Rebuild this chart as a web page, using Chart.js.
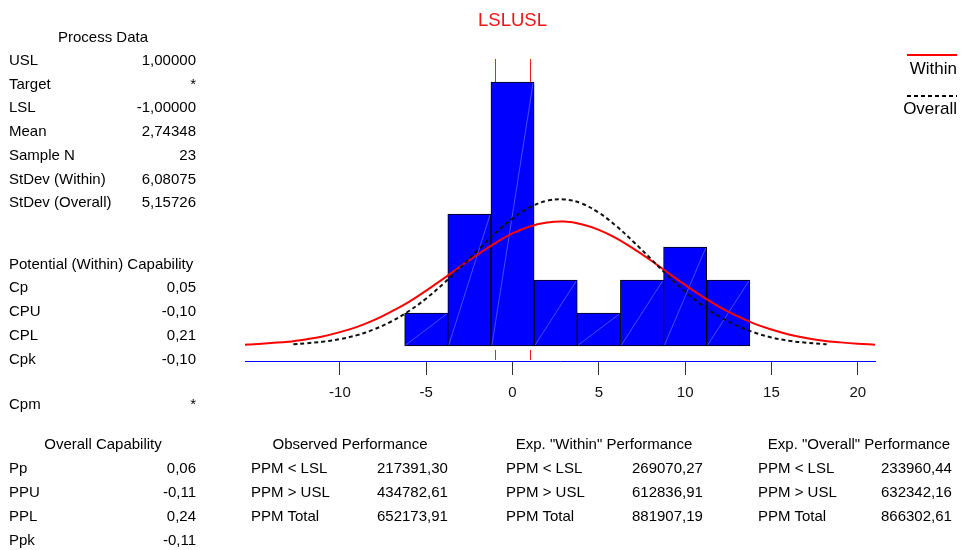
<!DOCTYPE html>
<html>
<head>
<meta charset="utf-8">
<script src="https://cdn.jsdelivr.net/npm/chart.js@4"></script>
<style>
html, body { margin: 0; padding: 0; background: #fff; }
#wrap { position: relative; width: 961px; height: 550px; overflow: hidden; font-family: "Liberation Sans", Arial, sans-serif; color: #000; }
#chart { position: absolute; left: 0; top: 0; }
.t { position: absolute; font-size: 15px; line-height: 18px; white-space: nowrap; }
</style>
</head>
<body>
<div id="wrap"><canvas id="chart" width="961" height="550"></canvas></div>
<script>
//Data

const chartTitle = "LSLUSL";
const specLimits = [-1, 1]; // LSL, USL

const binCenters = [-5, -2.5, 0, 2.5, 5, 7.5, 10, 12.5];
const binCounts = [1, 4, 8, 2, 1, 2, 3, 2];

const withinX = [-15.5, -15, -14, -13, -12, -11, -10, -9, -8, -7, -6, -5, -4, -3, -2, -1, 0, 1, 2, 3, 4, 5, 6, 7, 8, 9, 10, 11, 12, 13, 14, 15, 16, 17, 18, 19, 20, 21];
const withinY = [0.04, 0.05, 0.09, 0.13, 0.2, 0.29, 0.42, 0.58, 0.79, 1.05, 1.34, 1.68, 2.04, 2.42, 2.78, 3.12, 3.41, 3.62, 3.74, 3.77, 3.69, 3.52, 3.27, 2.95, 2.6, 2.22, 1.85, 1.5, 1.18, 0.91, 0.68, 0.5, 0.35, 0.24, 0.16, 0.11, 0.07, 0.04];

const overallX = [-12.7, -12, -11, -10, -9, -8, -7, -6, -5, -4, -3, -2, -1, 0, 1, 2, 3, 4, 5, 6, 7, 8, 9, 10, 11, 12, 13, 14, 15, 16, 17, 18, 18.2];
const overallY = [0.05, 0.08, 0.13, 0.21, 0.33, 0.51, 0.75, 1.06, 1.44, 1.89, 2.39, 2.91, 3.42, 3.86, 4.2, 4.4, 4.44, 4.32, 4.04, 3.64, 3.16, 2.65, 2.13, 1.65, 1.23, 0.89, 0.62, 0.41, 0.26, 0.16, 0.1, 0.06, 0.05];

const tickValues = [-10, -5, 0, 5, 10, 15, 20];
const tickLabels = ["-10", "-5", "0", "5", "10", "15", "20"];

const processLabels = ["USL", "Target", "LSL", "Mean", "Sample N", "StDev (Within)", "StDev (Overall)"];
const processValues = ["1,00000", "*", "-1,00000", "2,74348", "23", "6,08075", "5,15726"];

const potentialLabels = ["Cp", "CPU", "CPL", "Cpk", "Cpm"];
const potentialValues = ["0,05", "-0,10", "0,21", "-0,10", "*"];

const overallCapLabels = ["Pp", "PPU", "PPL", "Ppk"];
const overallCapValues = ["0,06", "-0,11", "0,24", "-0,11"];

const ppmLabels = ["PPM < LSL", "PPM > USL", "PPM Total"];
const observedPPM = ["217391,30", "434782,61", "652173,91"];
const withinPPM = ["269070,27", "612836,91", "881907,19"];
const overallPPM = ["233960,44", "632342,16", "866302,61"];

//Text

const wrap = document.getElementById("wrap");

function text(str, x, cy, align, extra) {
	const d = document.createElement("div");
	d.className = "t";
	d.textContent = str;
	d.style.top = (cy - 9) + "px";
	if (align === "right") {
		d.style.right = (961 - x) + "px";
	} else if (align === "center") {
		d.style.left = x + "px";
		d.style.transform = "translateX(-50%)";
	} else {
		d.style.left = x + "px";
	}
	if (extra) Object.assign(d.style, extra);
	wrap.appendChild(d);
	return d;
}

function box(left, top, width, style) {
	const d = document.createElement("div");
	d.style.position = "absolute";
	d.style.left = left + "px";
	d.style.top = top + "px";
	d.style.width = width + "px";
	Object.assign(d.style, style);
	wrap.appendChild(d);
}

text(chartTitle, 512.5, 20, "center", { fontSize: "18.5px", lineHeight: "18px", color: "#f01414" });

text("Process Data", 103, 37, "center");
processLabels.forEach((l, i) => {
	const y = 60 + i * 23.7;
	text(l, 9, y, "left");
	text(processValues[i], 196, y, "right");
});

text("Potential (Within) Capability", 9, 264, "left");
const potentialY = [287, 311, 335, 359, 404];
potentialLabels.forEach((l, i) => {
	text(l, 9, potentialY[i], "left");
	text(potentialValues[i], 196, potentialY[i], "right");
});

text("Overall Capability", 103, 444, "center");
overallCapLabels.forEach((l, i) => {
	const y = 468 + i * 24;
	text(l, 9, y, "left");
	text(overallCapValues[i], 196, y, "right");
});

const panels = [
	{ title: "Observed Performance", cx: 350, lx: 251, vx: 377, values: observedPPM },
	{ title: 'Exp. "Within" Performance', cx: 604, lx: 506, vx: 632, values: withinPPM },
	{ title: 'Exp. "Overall" Performance', cx: 859, lx: 758, vx: 881, values: overallPPM },
];
panels.forEach(p => {
	text(p.title, p.cx, 444, "center");
	ppmLabels.forEach((l, i) => {
		const y = 468 + i * 24;
		text(l, p.lx, y, "left");
		text(p.values[i], p.vx, y, "left");
	});
});

//Legend
box(907, 54, 50, { height: "2px", background: "#ff0000" });
text("Within", 957, 69, "right", { fontSize: "17px" });
box(907, 95, 50, { height: "2px", background: "repeating-linear-gradient(90deg, #000 0 4px, transparent 4px 7px)" });
text("Overall", 957, 109, "right", { fontSize: "17px" });

//Chart

Chart.defaults.font.family = '"Liberation Sans", Arial, sans-serif';

const specLines = {
	id: "specLines",
	beforeDatasetsDraw(chart) {
		const { ctx, chartArea, scales } = chart;
		ctx.save();
		ctx.strokeStyle = "#e82020";
		ctx.lineWidth = 1;
		ctx.setLineDash([92, 5]);
		ctx.lineDashOffset = 82;
		specLimits.forEach(v => {
			const px = Math.round(scales.x.getPixelForValue(v)) + 0.5;
			ctx.beginPath();
			ctx.moveTo(px, chartArea.bottom - 1);
			ctx.lineTo(px, chartArea.top + 5);
			ctx.stroke();
		});
		ctx.restore();
	},
};

const barHatch = {
	id: "barHatch",
	afterDatasetDraw(chart, args) {
		if (args.index !== 0) return;
		const ctx = chart.ctx;
		ctx.save();
		ctx.strokeStyle = "rgba(170,185,255,0.6)";
		ctx.lineWidth = 0.7;
		args.meta.data.forEach(bar => {
			const { x, y, base, width } = bar.getProps(["x", "y", "base", "width"], true);
			ctx.beginPath();
			ctx.moveTo(x - width / 2 + 1, base - 1);
			ctx.lineTo(x + width / 2 - 1, y + 1);
			ctx.stroke();
		});
		ctx.restore();
	},
};

const ctx = document.getElementById("chart").getContext("2d");

const data = {
	datasets: [
		{
			type: "bar",
			data: binCenters.map((c, i) => ({ x: c, y: binCounts[i] })),
			backgroundColor: "#0000ff",
			borderColor: "#000",
			borderWidth: 1,
			borderSkipped: false,
			barPercentage: 1,
			categoryPercentage: 1,
			order: 3,
		},
		{
			type: "line",
			label: "Within",
			data: withinX.map((x, i) => ({ x: x, y: withinY[i] })),
			borderColor: "#ff0000",
			borderWidth: 2,
			pointRadius: 0,
			tension: 0.4,
			order: 2,
		},
		{
			type: "line",
			label: "Overall",
			data: overallX.map((x, i) => ({ x: x, y: overallY[i] })),
			borderColor: "#111",
			borderWidth: 2,
			borderDash: [4, 3],
			pointRadius: 0,
			tension: 0.4,
			order: 1,
		},
	],
};

const config = {
	type: "bar",
	data: data,
	options: {
		responsive: false,
		animation: false,
		layout: { padding: { left: 245, right: 86, top: 49, bottom: 149 } },
		plugins: {
			legend: { display: false },
			tooltip: { enabled: false },
			title: { display: false },
		},
		scales: {
			x: {
				type: "linear",
				min: -15.5,
				max: 21,
				offset: false,
				afterBuildTicks: s => { s.ticks = tickValues.map(v => ({ value: v })); },
				afterFit: s => { s.height = 40; },
				grid: { drawOnChartArea: false, drawTicks: true, tickLength: 14, color: "#333", offset: false },
				border: { display: true, color: "#0000ff", width: 1 },
				ticks: {
					font: { size: 15 },
					color: "#111",
					padding: 9,
					maxRotation: 0,
					autoSkip: false,
					callback: v => tickLabels[tickValues.indexOf(v)],
				},
			},
			y: { display: false, min: -0.4545, max: 9 },
		},
	},
	plugins: [specLines, barHatch],
};

new Chart(ctx, config);
</script>
</body>
</html>
